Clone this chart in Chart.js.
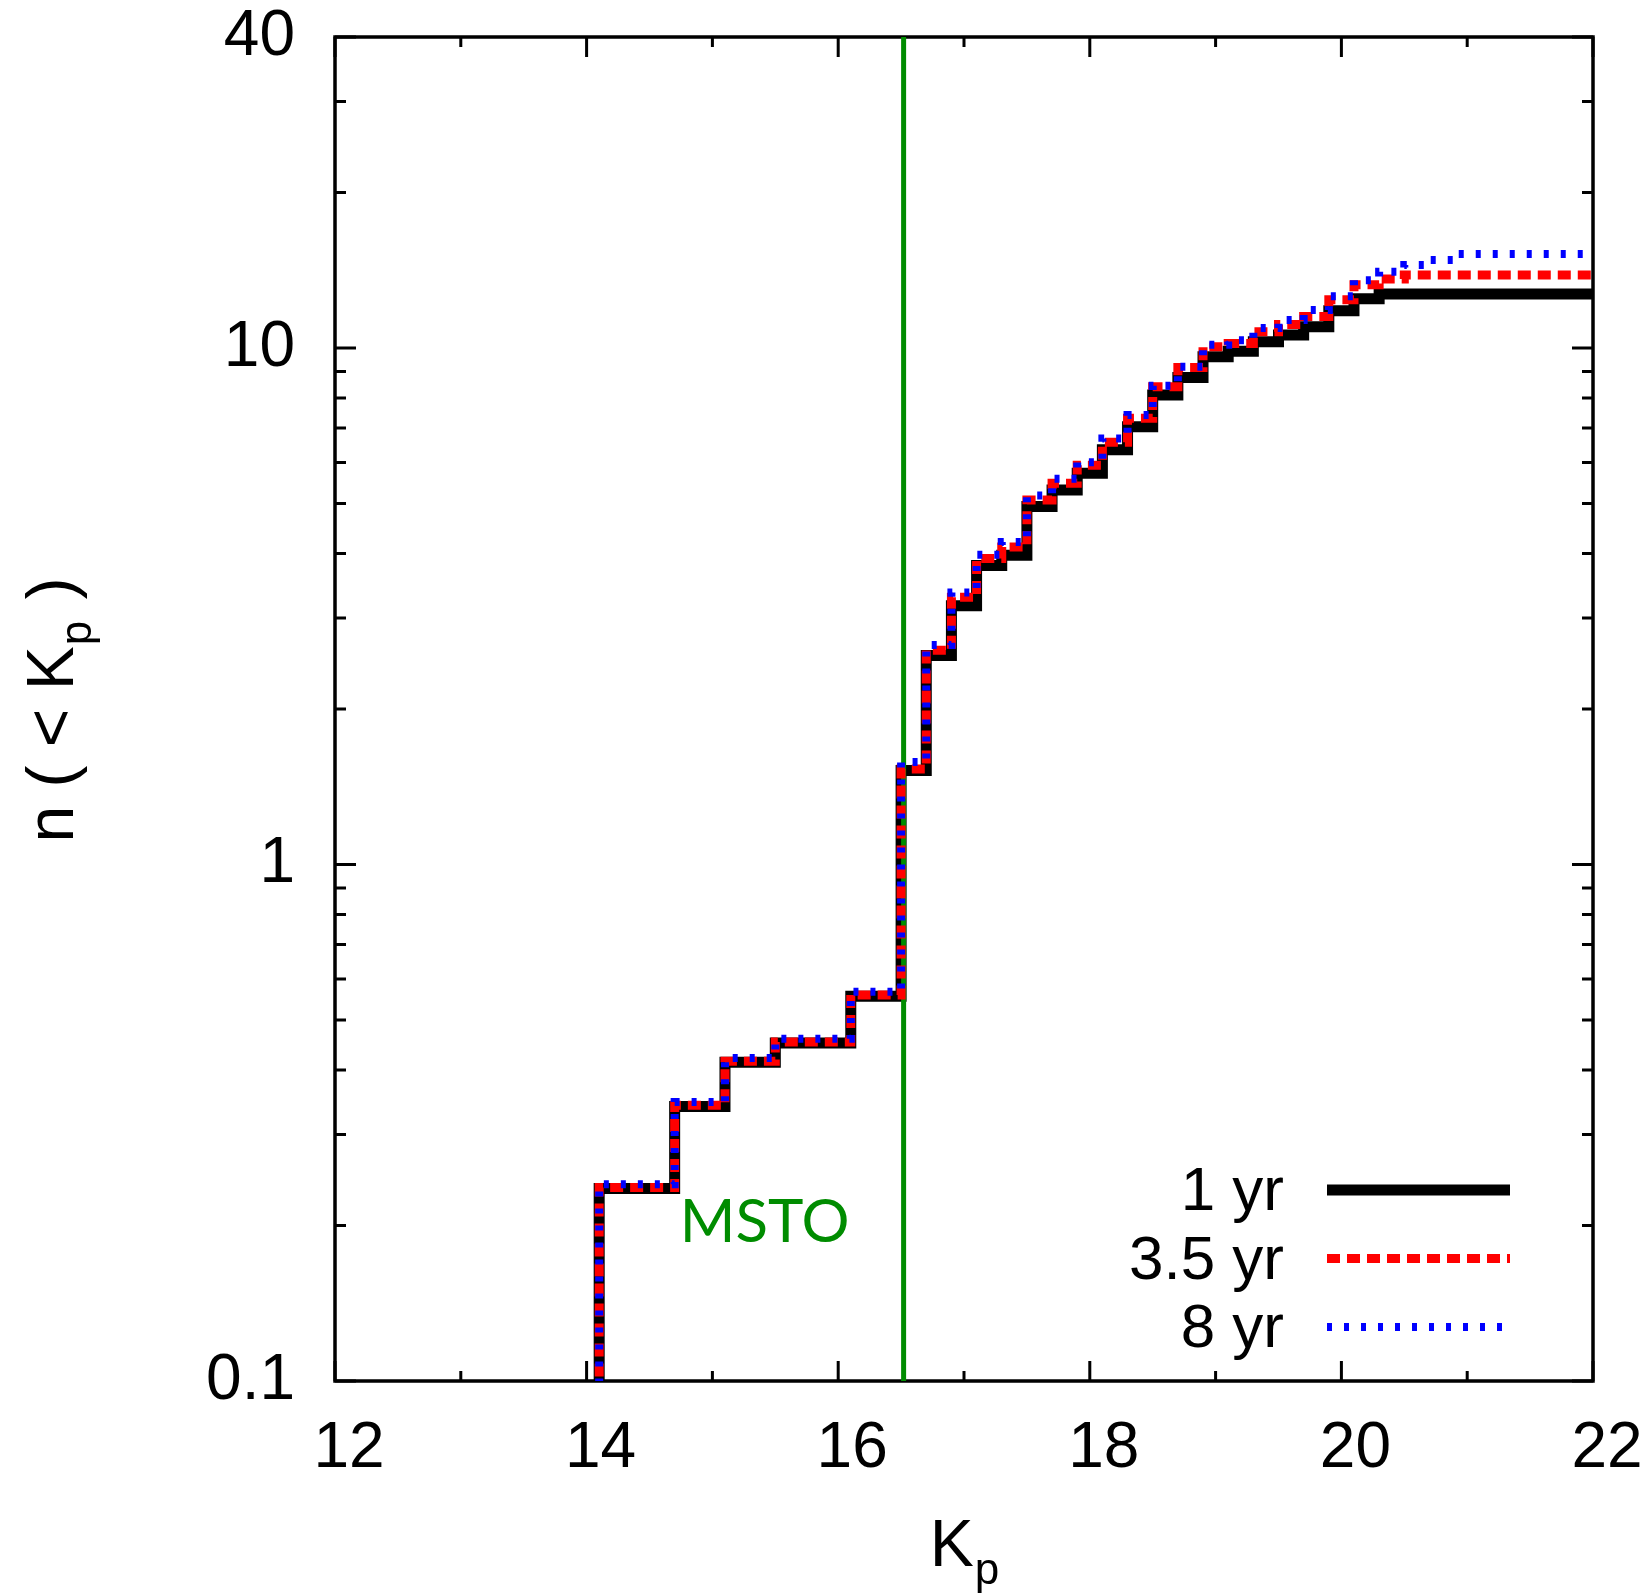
<!DOCTYPE html>
<html>
<head>
<meta charset="utf-8">
<script src="https://cdn.jsdelivr.net/npm/chart.js@4.4.0/dist/chart.umd.min.js"></script>
<style>
  html, body { margin: 0; padding: 0; background: #fff; }
  #wrap { width: 1643px; height: 1596px; }
</style>
</head>
<body>
<div id="wrap"><canvas id="kpChart" width="1643" height="1596"></canvas></div>
<script>
// cumulative n(<Kp): each level starts at the matching edge
const kpEdges = [14.1, 14.7, 15.1, 15.5, 16.1, 16.5, 16.7, 16.9, 17.1, 17.3, 17.5, 17.7, 17.9, 18.1, 18.3,
                 18.5, 18.7, 18.9, 19.1, 19.3, 19.5, 19.7, 19.9, 20.1, 20.3, 20.5, 20.7, 20.9, 22.0];
const n1yr  = [0.236, 0.340, 0.414, 0.451, 0.556, 1.52, 2.54, 3.17, 3.79, 3.97, 4.93, 5.31, 5.72, 6.35, 7.04,
               8.11, 8.77, 9.62, 9.85, 10.28, 10.6, 10.99, 11.8, 12.45, 12.72, 12.72, 12.72, 12.72, 12.72];
const n35yr = [0.237, 0.342, 0.416, 0.453, 0.559, 1.53, 2.60, 3.29, 3.91, 4.12, 5.08, 5.47, 5.93, 6.57, 7.31,
               8.41, 9.17, 10.06, 10.2, 10.75, 11.1, 11.5, 12.4, 13.25, 13.6, 13.84, 13.84, 13.84, 13.84];
const n8yr  = [0.2405, 0.347, 0.422, 0.460, 0.567, 1.58, 2.66, 3.36, 3.98, 4.21, 5.18, 5.58, 6.01, 6.68, 7.42,
               8.45, 9.2, 10.15, 10.35, 10.93, 11.33, 11.84, 12.6, 13.53, 14.05, 14.47, 14.8, 15.2, 15.2];
const seriesLabels = ['1 yr', '3.5 yr', '8 yr'];

const mstoKp = 16.52;
const mstoLabel = 'MSTO';
const mstoLabelAt = { x: 14.74, y: 0.186 };

const xTicks = [12, 13, 14, 15, 16, 17, 18, 19, 20, 21, 22];
const xLabelled = [12, 14, 16, 18, 20, 22];
const yTicks = [0.1, 0.2, 0.3, 0.4, 0.5, 0.6, 0.7, 0.8, 0.9, 1, 2, 3, 4, 5, 6, 7, 8, 9, 10, 20, 30, 40];
const yLabelled = [0.1, 1, 10, 40];
const yLabelText = ['0.1', '1', '10', '40'];

const SANS = "'Liberation Sans', Arial, Helvetica, sans-serif";
const GREEN = '#008c00';

function stepPoints(levels) {
  // start below the axis so the first riser comes up from the bottom
  const pts = [{ x: kpEdges[0], y: yTicks[0] / 2 }];
  kpEdges.forEach((k, i) => pts.push({ x: k, y: levels[i] }));
  return pts;
}

// keep the plot box fixed: no extra room for overhanging tick labels
function noOverhang(s) {
  s.paddingTop = 0; s.paddingBottom = 0; s.paddingLeft = 0; s.paddingRight = 0;
}

const decor = {
  id: 'decor',
  beforeDatasetsDraw(chart) {
    const { ctx, chartArea: a, scales: { x, y } } = chart;
    ctx.save();
    ctx.strokeStyle = '#000';
    ctx.lineWidth = 3.5;
    ctx.strokeRect(a.left, a.top, a.right - a.left, a.bottom - a.top);
    ctx.lineWidth = 3;
    ctx.beginPath();
    xTicks.forEach(v => {
      const px = x.getPixelForValue(v);
      const len = xLabelled.includes(v) ? 20 : 10;
      ctx.moveTo(px, a.bottom); ctx.lineTo(px, a.bottom - len);
      ctx.moveTo(px, a.top); ctx.lineTo(px, a.top + len);
    });
    yTicks.forEach(v => {
      const py = y.getPixelForValue(v);
      const len = yLabelled.includes(v) ? 21 : 11;
      ctx.moveTo(a.left, py); ctx.lineTo(a.left + len, py);
      ctx.moveTo(a.right, py); ctx.lineTo(a.right - len, py);
    });
    ctx.stroke();
    ctx.restore();
  },
  afterDraw(chart) {
    const { ctx, chartArea: a, scales: { x, y } } = chart;
    ctx.save();

    // MSTO label
    ctx.fillStyle = GREEN;
    ctx.font = "60px Lato, 'Open Sans', sans-serif";
    ctx.textAlign = 'left';
    ctx.textBaseline = 'alphabetic';
    ctx.fillText(mstoLabel, x.getPixelForValue(mstoLabelAt.x), y.getPixelForValue(mstoLabelAt.y));

    // legend: text on the left, line sample on the right
    const lineEnd = a.right - 83;
    const lineStart = lineEnd - 183;
    const textRight = lineStart - 43;
    const row0 = a.bottom - 191;
    const rowGap = 68.5;
    ctx.font = '62px ' + SANS;
    ctx.textAlign = 'right';
    ctx.textBaseline = 'middle';
    chart.data.datasets.filter(d => seriesLabels.includes(d.label)).forEach(d => {
      const i = seriesLabels.indexOf(d.label);
      const yy = row0 + i * rowGap;
      ctx.fillStyle = '#000';
      ctx.fillText(d.label, textRight, yy + 3);
      ctx.strokeStyle = d.borderColor;
      ctx.lineWidth = d.borderWidth;
      ctx.setLineDash(d.borderDash || []);
      ctx.lineCap = 'butt';
      ctx.beginPath();
      ctx.moveTo(lineStart, yy);
      ctx.lineTo(lineEnd, yy);
      ctx.stroke();
    });
    ctx.setLineDash([]);

    // axis titles with subscript p
    ctx.fillStyle = '#000';
    ctx.textAlign = 'left';
    ctx.textBaseline = 'alphabetic';
    const big = '66px ' + SANS, small = '44px ' + SANS;

    // x title: K_p
    ctx.font = big;
    const wK = ctx.measureText('K').width;
    ctx.font = small;
    const wp = ctx.measureText('p').width;
    const cx = (a.left + a.right) / 2;
    const xStart = cx - (wK + wp) / 2;
    ctx.font = big;
    ctx.fillText('K', xStart, 1566);
    ctx.font = small;
    ctx.fillText('p', xStart + wK + 1, 1584);

    // y title: n ( < K_p ), rotated
    const pre = 'n ( < K', post = ' )';
    ctx.font = big;
    const w1 = ctx.measureText(pre).width, w3 = ctx.measureText(post).width;
    ctx.font = small;
    const w2 = ctx.measureText('p').width;
    const total = w1 + w2 + w3;
    ctx.translate(73, (a.top + a.bottom) / 2 + 3);
    ctx.rotate(-Math.PI / 2);
    ctx.font = big;
    ctx.fillText(pre, -total / 2, 0);
    ctx.font = small;
    ctx.fillText('p', -total / 2 + w1 + 1, 18);
    ctx.font = big;
    ctx.fillText(post, -total / 2 + w1 + w2 + 4, 0);

    ctx.restore();
  }
};

new Chart(document.getElementById('kpChart'), {
  type: 'line',
  data: {
    datasets: [
      {
        label: seriesLabels[0],
        data: stepPoints(n1yr),
        borderColor: '#000000',
        borderWidth: 11,
        stepped: true,
        borderJoinStyle: 'miter',
        pointRadius: 0,
        clip: 0,
        order: 4
      },
      {
        label: 'MSTO line',
        data: [{ x: mstoKp, y: yTicks[0] }, { x: mstoKp, y: yTicks[yTicks.length - 1] }],
        borderColor: GREEN,
        borderWidth: 5,
        pointRadius: 0,
        clip: false,
        order: 3
      },
      {
        label: seriesLabels[1],
        data: stepPoints(n35yr),
        borderColor: '#ff0000',
        borderWidth: 9,
        borderDash: [13, 7],
        stepped: true,
        borderCapStyle: 'butt',
        pointRadius: 0,
        clip: 0,
        order: 2
      },
      {
        label: seriesLabels[2],
        data: stepPoints(n8yr),
        borderColor: '#0000ff',
        borderWidth: 8,
        borderDash: [5, 12],
        stepped: true,
        borderCapStyle: 'butt',
        pointRadius: 0,
        clip: 0,
        order: 1
      }
    ]
  },
  options: {
    responsive: false,
    animation: false,
    layout: { padding: { top: 37, right: 50, left: 0, bottom: 0 } },
    plugins: {
      legend: { display: false },
      tooltip: { enabled: false }
    },
    scales: {
      x: {
        type: 'linear',
        min: 12,
        max: 22,
        afterBuildTicks: s => { s.ticks = xTicks.map(v => ({ value: v })); },
        afterFit: s => { s.height = 215; noOverhang(s); },
        ticks: {
          autoSkip: false,
          maxRotation: 0,
          padding: 36,
          labelOffset: 14,
          color: '#000',
          font: { family: SANS, size: 64, lineHeight: 1 },
          callback: v => (xLabelled.includes(v) ? String(v) : '')
        },
        grid: { display: false, drawTicks: false },
        border: { display: false }
      },
      y: {
        type: 'logarithmic',
        min: yTicks[0],
        max: yTicks[yTicks.length - 1],
        afterBuildTicks: s => { s.ticks = yTicks.map(v => ({ value: v })); },
        afterFit: s => { s.width = 335; noOverhang(s); },
        ticks: {
          autoSkip: false,
          padding: 40,
          color: '#000',
          font: { family: SANS, size: 64, lineHeight: 1 },
          callback: v => {
            const i = yLabelled.indexOf(v);
            return i >= 0 ? yLabelText[i] : '';
          }
        },
        grid: { display: false, drawTicks: false },
        border: { display: false }
      }
    }
  },
  plugins: [decor]
});
</script>
</body>
</html>
